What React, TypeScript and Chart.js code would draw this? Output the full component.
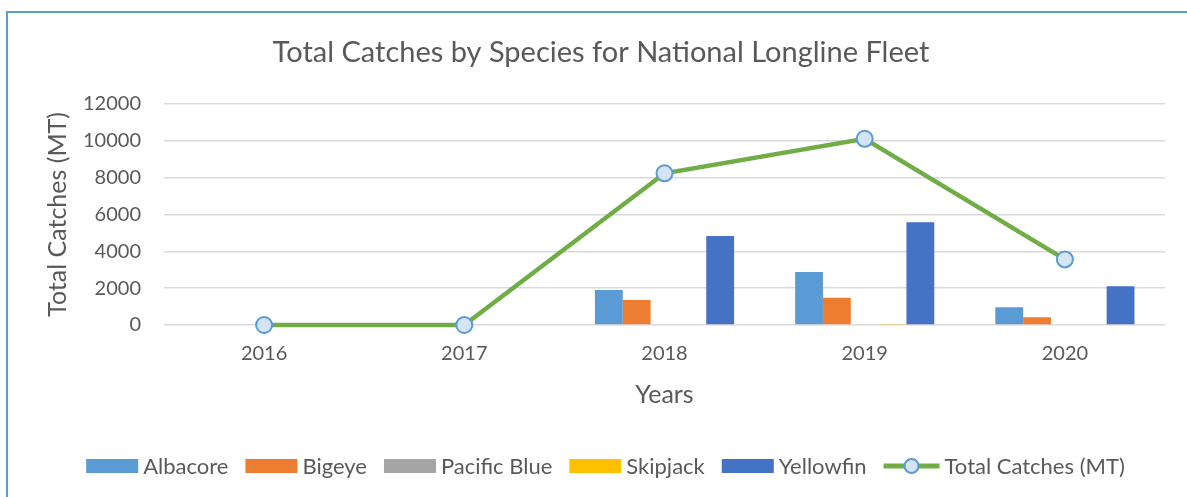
import React, { useEffect, useRef } from "react";
import { Chart, registerables } from "chart.js";

Chart.register(...registerables);

// Catch data (metric tonnes) per year and species
const years = ["2016", "2017", "2018", "2019", "2020"];
const albacore = [0, 0, 1900, 2870, 960];
const bigeye = [0, 0, 1350, 1480, 420];
const pacificBlue = [0, 0, 0, 0, 0];
const skipjack = [0, 0, 40, 60, 0];
const yellowfin = [0, 0, 4830, 5570, 2100];
const totalCatches = [0, 0, 8230, 10100, 3560];

const Y_MIN = 0;
const Y_MAX = 12000;
const Y_STEP = 2000;

const FONT = "Lato, 'Open Sans', sans-serif";
const TEXT = "#595959";
const GRID = "#D9D9D9";
const LINE_GREEN = "#70AD47";
const POINT_EDGE = "#5B9BD5";
const POINT_FILL = "#D5E4F4";

type LegendEntry = { label: string; kind: "box" | "line"; color: string };

// Horizontal legend drawn under the x-axis title: wide colour boxes for the
// bar series and a line-with-marker swatch for the total series.
const bottomLegend = {
  id: "bottomLegend",
  afterDraw(chart: Chart) {
    const ctx = chart.ctx;
    const entries: LegendEntry[] = chart.data.datasets.map((ds: any) => ({
      label: ds.label as string,
      kind: ds.type === "line" ? "line" : "box",
      color: (ds.type === "line" ? ds.borderColor : ds.backgroundColor) as string,
    }));
    const BOX_W = 52;
    const BOX_H = 14;
    const LINE_W = 56;
    const TEXT_GAP = 5;
    const ITEM_GAP = 17;
    ctx.save();
    ctx.font = `22px ${FONT}`;
    ctx.textBaseline = "middle";
    ctx.textAlign = "left";
    const widths = entries.map(
      (e) => (e.kind === "line" ? LINE_W : BOX_W) + TEXT_GAP + ctx.measureText(e.label).width
    );
    const total = widths.reduce((a, b) => a + b, 0) + ITEM_GAP * (entries.length - 1);
    let x = chart.width / 2 + 8 - total / 2;
    const y = chart.height - 31;
    entries.forEach((e, i) => {
      if (e.kind === "box") {
        ctx.fillStyle = e.color;
        ctx.fillRect(x, y - BOX_H / 2, BOX_W, BOX_H);
        ctx.fillStyle = TEXT;
        ctx.fillText(e.label, x + BOX_W + TEXT_GAP, y + 1);
      } else {
        ctx.strokeStyle = e.color;
        ctx.lineWidth = 5;
        ctx.beginPath();
        ctx.moveTo(x, y);
        ctx.lineTo(x + LINE_W, y);
        ctx.stroke();
        ctx.beginPath();
        ctx.arc(x + LINE_W / 2, y, 7, 0, Math.PI * 2);
        ctx.fillStyle = POINT_FILL;
        ctx.fill();
        ctx.lineWidth = 2;
        ctx.strokeStyle = POINT_EDGE;
        ctx.stroke();
        ctx.fillStyle = TEXT;
        ctx.fillText(e.label, x + LINE_W + TEXT_GAP, y + 1);
      }
      x += widths[i] + ITEM_GAP;
    });
    ctx.restore();
  },
};

export default function App() {
  const canvasRef = useRef<HTMLCanvasElement>(null);

  useEffect(() => {
    if (!canvasRef.current) return;
    const bar = (label: string, data: number[], color: string) => ({
      type: "bar" as const,
      label,
      data,
      backgroundColor: color,
      borderWidth: 0,
      order: 1,
    });
    const chart = new Chart(canvasRef.current, {
      type: "bar",
      data: {
        labels: years,
        datasets: [
          bar("Albacore", albacore, "#5B9BD5"),
          bar("Bigeye", bigeye, "#ED7D31"),
          bar("Pacific Blue", pacificBlue, "#A5A5A5"),
          bar("Skipjack", skipjack, "#FFC000"),
          bar("Yellowfin", yellowfin, "#4472C4"),
          {
            type: "line" as const,
            label: "Total Catches (MT)",
            data: totalCatches,
            borderColor: LINE_GREEN,
            backgroundColor: LINE_GREEN,
            borderWidth: 4.5,
            pointRadius: 8,
            pointBorderWidth: 2,
            pointBorderColor: POINT_EDGE,
            pointBackgroundColor: POINT_FILL,
            tension: 0,
            clip: false,
            order: 0,
          } as any,
        ],
      },
      options: {
        animation: false,
        responsive: true,
        maintainAspectRatio: false,
        layout: { padding: { left: 29, right: 22, top: 0, bottom: 82 } },
        datasets: {
          bar: { categoryPercentage: 0.695, barPercentage: 1 },
        },
        plugins: {
          legend: { display: false },
          tooltip: { enabled: false },
          title: {
            display: true,
            text: "Total Catches by Species for National Longline Fleet",
            color: TEXT,
            font: { family: FONT, size: 29, weight: "normal" },
            padding: { top: 22, bottom: 34 },
          },
        },
        scales: {
          x: {
            grid: { display: false, drawTicks: false },
            border: { display: false },
            ticks: {
              color: TEXT,
              font: { family: FONT, size: 20 },
              padding: 17,
            },
            title: {
              display: true,
              text: "Years",
              color: TEXT,
              font: { family: FONT, size: 25 },
              padding: { top: 0, bottom: 5 },
            },
            afterFit: (scale: any) => {
              scale.height = 90;
            },
          },
          y: {
            min: Y_MIN,
            max: Y_MAX,
            grid: { color: GRID, lineWidth: 1.5, drawTicks: false },
            border: { display: false },
            ticks: {
              stepSize: Y_STEP,
              color: TEXT,
              font: { family: FONT, size: 20 },
              padding: 23,
              callback: (value: any) => String(value),
            },
            title: {
              display: true,
              text: "Total Catches (MT)",
              color: TEXT,
              font: { family: FONT, size: 25 },
              padding: { top: 6, bottom: 0 },
            },
            afterFit: (scale: any) => {
              scale.width = 127;
            },
          },
        },
      },
      plugins: [bottomLegend],
    });
    return () => chart.destroy();
  }, []);

  return (
    <div
      style={{
        position: "fixed",
        left: 0,
        top: 0,
        width: 1187,
        height: 497,
        background: "#ffffff",
        overflow: "hidden",
      }}
    >
      <div
        style={{
          position: "absolute",
          left: 6,
          top: 11,
          right: 0,
          bottom: 0,
          borderLeft: "2px solid #5B9BD5",
          borderTop: "2px solid #5B9BD5",
        }}
      >
        <div style={{ position: "relative", width: 1179, height: 484 }}>
          <canvas ref={canvasRef} />
        </div>
      </div>
    </div>
  );
}
